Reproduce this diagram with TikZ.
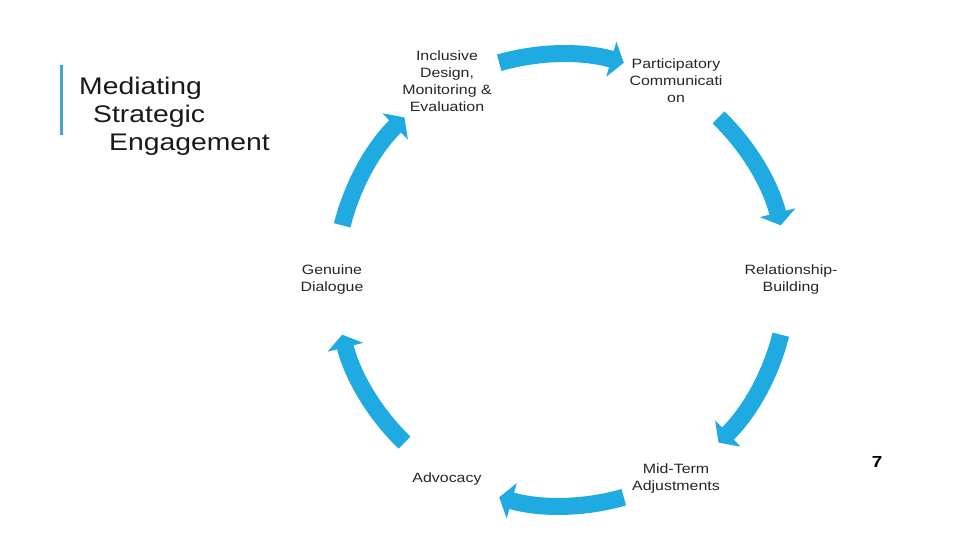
\documentclass[tikz,border=0pt]{standalone}
\usepackage{fontspec}
\setmainfont[FakeStretch=1.18]{Liberation Sans}
\usetikzlibrary{arrows.meta,calc}
\definecolor{arrblue}{HTML}{1FAAE2}
\definecolor{barblue}{HTML}{3FA6D6}
\begin{document}
\begin{tikzpicture}[x=1pt,y=1pt,
  lbl/.style={align=center,inner sep=0pt,font=\fontsize{13.5}{17}\selectfont,text=black!85},
  ttl/.style={anchor=base west,inner sep=0pt,font=\fontsize{24}{28}\selectfont,text=black!90},
  cyc/.style={draw=arrblue,line width=17pt,-{Triangle[width=36pt,length=13pt]}}]
\useasboundingbox[fill=white] (0,0) rectangle (960,540);
\coordinate (c) at (561.5,260);
% title
\fill[barblue] (59.5,405) rectangle (62.5,475);
\node[ttl] (t1) at (79,445) {Mediating};
\node[ttl] (t2) at (93,417) {Strategic};
\node[ttl] (t3) at (109,389) {Engagement};
% labels
\node[lbl] (n1) at (447,459) {Inclusive\\Design,\\Monitoring \&\\Evaluation};
\node[lbl] (n2) at (676,459) {Participatory\\Communicati\\on};
\node[lbl] (n3) at (791,260) {Relationship-\\Building};
\node[lbl] (n4) at (676,61) {Mid-Term\\Adjustments};
\node[lbl] (n5) at (447,61) {Advocacy};
\node[lbl] (n6) at (332,260) {Genuine\\Dialogue};
\node[inner sep=0pt,font=\fontsize{16}{18}\selectfont\bfseries] (pg) at (877,78) {7};
% arrows
\foreach \a in {90,30,-30,-90,-150,150}{
  \draw[cyc] ($(c)+(\a+16:226)$) arc[start angle=\a+16, end angle=\a-16, radius=226];
}
\end{tikzpicture}
\end{document}
